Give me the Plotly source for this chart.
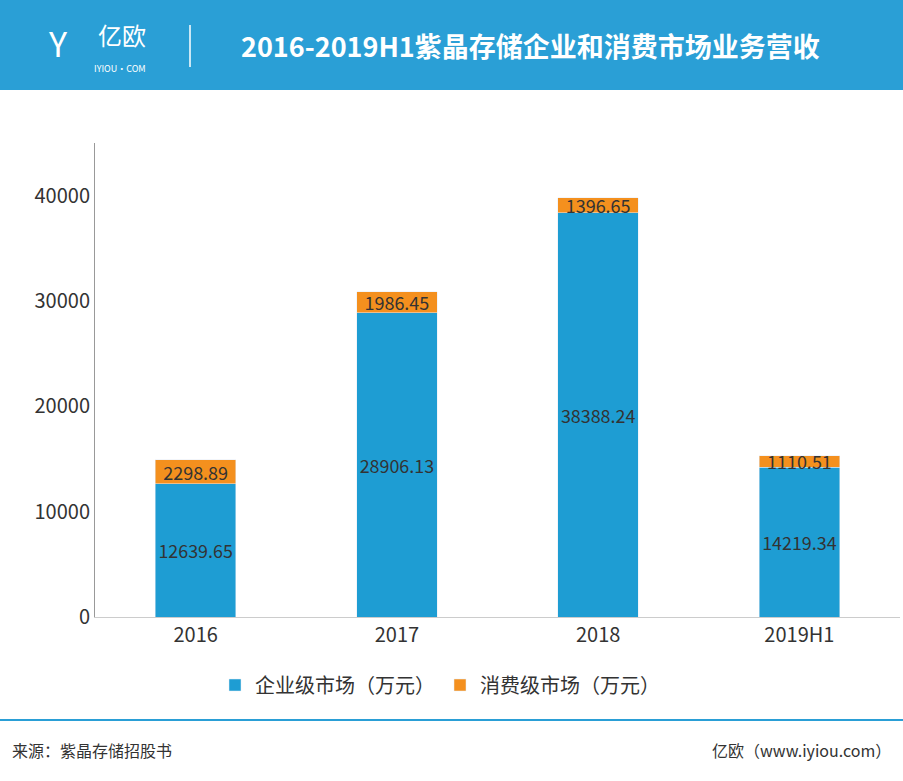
import plotly.graph_objects as go

categories = ["2016", "2017", "2018", "2019H1"]
enterprise = [12639.65, 28906.13, 38388.24, 14219.34]
consumer = [2298.89, 1986.45, 1396.65, 1110.51]

W, H = 903, 781
L, R, T, B = 95, 3, 143, 164
pw, ph = W - L - R, H - T - B
def px(x): return (x - L) / pw
def py(y): return (H - B - y) / ph

font = "Noto Sans CJK SC"
fig = go.Figure()
fig.add_bar(x=categories, y=enterprise, name="企业级市场（万元）", marker_color="#1E9DD3",
            text=[f"{v:.2f}" for v in enterprise], textposition="inside", insidetextanchor="middle",
            textangle=0, textfont=dict(color="#333", size=18, family=font), width=0.4)
fig.add_bar(x=categories, y=consumer, name="消费级市场（万元）", marker_color="#F4901E",
            text=[f"{v:.2f}" for v in consumer], textposition="inside", insidetextanchor="middle",
            textangle=0, textfont=dict(color="#333", size=18, family=font), width=0.4, constraintext="none")

shapes = [
    dict(type="rect", xref="paper", yref="paper", x0=px(0), x1=px(W), y0=py(90), y1=py(0),
         fillcolor="#2A9FD6", line_width=0, layer="below"),
    dict(type="line", xref="paper", yref="paper", x0=px(190), x1=px(190), y0=py(25), y1=py(67),
         line=dict(color="white", width=1.5)),
    dict(type="line", xref="paper", yref="paper", x0=px(0), x1=px(W), y0=py(720), y1=py(720),
         line=dict(color="#2A9FD6", width=2)),
]
ann = [
    dict(text="<b>2016-2019H1紫晶存储企业和消费市场业务营收</b>", x=px(530), y=py(45), font=dict(size=27, color="white", family=font)),
    dict(text="亿欧", x=px(122), y=py(34), font=dict(size=24, color="white", family=font)),
    dict(text="IYIOU·COM", x=px(120), y=py(68), font=dict(size=9, color="white", family=font)),
    dict(text="Y", x=px(58), y=py(42), font=dict(size=34, color="white", family=font)),
    dict(text="来源：紫晶存储招股书", x=px(10), y=py(750), xanchor="left", font=dict(size=16, color="#333", family=font)),
    dict(text="亿欧（www.iyiou.com）", x=px(893), y=py(750), xanchor="right", font=dict(size=16, color="#333", family=font)),
]
for a in ann:
    a.setdefault("xanchor", "center"); a.update(xref="paper", yref="paper", yanchor="middle", showarrow=False)

fig.update_layout(
    barmode="stack", width=W, height=H, margin=dict(l=L, r=R, t=T, b=B),
    paper_bgcolor="white", plot_bgcolor="white", font=dict(family=font, color="#333"),
    shapes=shapes, annotations=ann,
    legend=dict(orientation="h", x=px(440), xanchor="center", y=py(685), yanchor="middle",
                font=dict(size=20), traceorder="normal", itemwidth=30),
)
fig.update_yaxes(range=[0, 45000], dtick=10000, tickformat="d", showgrid=False, showline=True, linecolor="#999",
                 tickfont=dict(size=20), ticks="", zeroline=False)
fig.update_xaxes(showline=True, linecolor="#ccc", tickfont=dict(size=20))
fig.write_html("out.html", post_script="document.body.style.margin='0';",
               config={"displayModeBar": False})
